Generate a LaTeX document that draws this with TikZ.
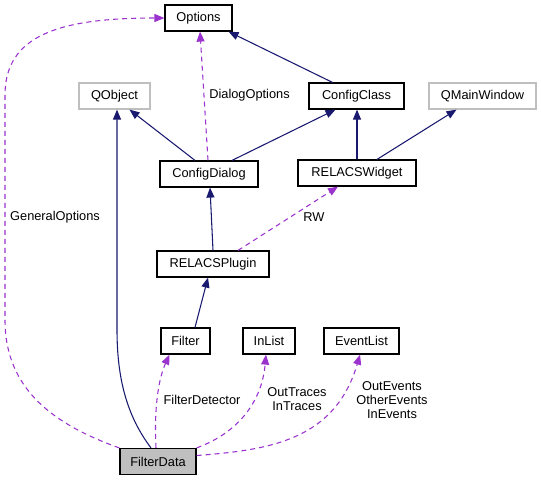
\documentclass[tikz,border=0pt]{standalone}
\usepackage{fontspec}
\setmainfont{Liberation Sans}
\usetikzlibrary{arrows.meta,calc}
\definecolor{edgeblue}{HTML}{191970}
\definecolor{edgepurple}{HTML}{9A32CD}
\definecolor{boxgray}{HTML}{BFBFBF}
\begin{document}
\begin{tikzpicture}[x=0.75pt, y=-0.75pt,
    font=\fontsize{9.6}{10.5}\selectfont,
    cls/.style={draw=black, line width=0.9pt, fill=white, minimum height=19.5pt, minimum width=#1, inner sep=0pt},
    ext/.style={draw=boxgray, line width=0.9pt, fill=white, minimum height=19.5pt, minimum width=#1, inner sep=0pt},
    inh/.style={edgeblue, line width=0.8pt, -{Triangle[length=7.5pt,width=6pt]}},
    use/.style={edgepurple, line width=0.8pt, dash pattern=on 3.75pt off 3pt, -{Triangle[length=7.5pt,width=6pt]}},
    lbl/.style={align=center, inner sep=0pt}]
    \useasboundingbox (0,0) rectangle (541,480);

    % classes
    \node[cls=50.25pt] (options) at (198.5,18) {Options};
    \node[ext=53.25pt] (qobject) at (114.5,96) {QObject};
    \node[cls=71.25pt] (configclass) at (356.5,96) {ConfigClass};
    \node[ext=80.25pt] (qmainwindow) at (482.5,96) {QMainWindow};
    \node[cls=73.5pt] (configdialog) at (209,174) {ConfigDialog};
    \node[cls=88.5pt] (relacswidget) at (357,173) {RELACSWidget};
    \node[cls=84pt] (relacsplugin) at (213,264) {RELACSPlugin};
    \node[cls=36.75pt] (filter) at (185.5,341) {Filter};
    \node[cls=39pt] (inlist) at (269,341) {InList};
    \node[cls=56.25pt] (eventlist) at (361.5,341) {EventList};
    \node[cls=57pt, fill=boxgray] (filterdata) at (158,461.5) {FilterData};

    % inheritance
    \draw[inh] ($(configclass.north)+(-24,0)$) -- ($(options.south)+(30,0)$);
    \draw[inh] ($(configdialog.north)+(-14,0)$) -- ($(qobject.south)+(15,0)$);
    \draw[inh] ($(configdialog.north)+(23,0)$) -- ($(configclass.south)+(-21,0)$);
    \draw[inh] (relacswidget.north) -- (configclass.south -| relacswidget.north);
    \draw[inh] ($(relacswidget.north)+(20,0)$) -- ($(qmainwindow.south)+(-26,0)$);
    \draw[inh] ($(relacsplugin.north)+(0,0)$) -- ($(configdialog.south)+(1,0)$);
    \draw[inh] ($(filter.north)+(9.5,0)$) -- ($(relacsplugin.south)+(-5,0)$);
    \draw[inh] ($(filterdata.north)+(-7,0)$) .. controls (130,420) and (117,385) .. (117,330)
        -- ($(qobject.south)+(2.5,0)$);

    % usage
    \draw[use] ($(configdialog.north)+(-1,0)$) -- ($(options.south)+(1.5,0)$);
    \node[lbl] (dialogoptions) at (249.5,95) {DialogOptions};
    \draw[use] ($(relacsplugin.north)+(25,0)$) -- ($(relacswidget.south)+(-19,0)$);
    \node[lbl] (rw) at (314,217) {RW};
    \draw[use] (filterdata.north west) .. controls (55,425) and (5,390) .. (5,320)
        -- (5,95) .. controls (5,35) and (60,18) .. (options.west);
    \node[lbl] (generaloptions) at (55,217) {GeneralOptions};
    \draw[use] ($(filterdata.north)+(-2,0)$) .. controls (154,410) and (158,380) .. ($(filter.south)+(-16,0)$);
    \node[lbl] (filterdetector) at (202,400) {FilterDetector};
    \draw[use] (filterdata.north east) .. controls (240,432) and (262,400) .. ($(inlist.south)+(-3,0)$);
    \node[lbl] (traces) at (297,399.5) {OutTraces\\InTraces};
    \draw[use] ($(filterdata.east)+(0,-6)$) .. controls (270,450) and (335,440) .. ($(eventlist.south)+(-1.5,0)$);
    \node[lbl] (events) at (392,400) {OutEvents\\OtherEvents\\InEvents};
\end{tikzpicture}
\end{document}
